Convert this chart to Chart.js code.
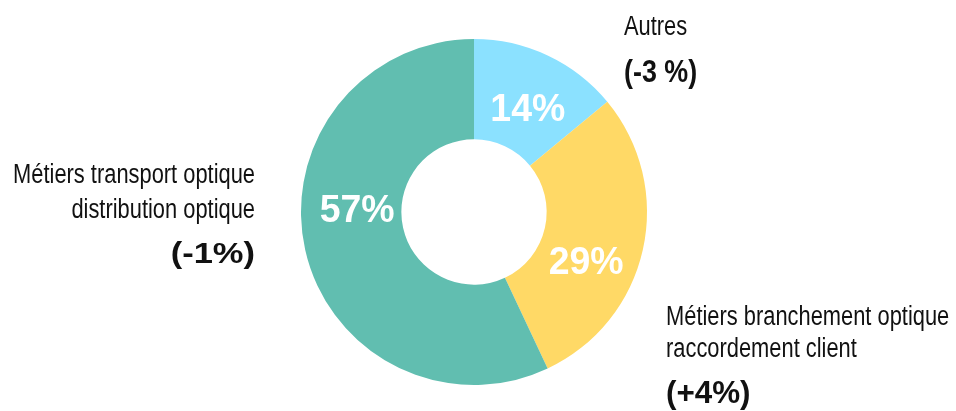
<!DOCTYPE html>
<html>
<head>
<meta charset="utf-8">
<script src="https://cdn.jsdelivr.net/npm/chart.js@4/dist/chart.umd.min.js"></script>
<style>
html,body{margin:0;padding:0;background:#fff;}
#wrap{width:956px;height:411px;position:relative;}
</style>
</head>
<body>
<div id="wrap"><canvas id="c" width="956" height="411"></canvas></div>
<script>
const categories = ["Autres", "Métiers branchement optique|raccordement client", "Métiers transport optique|distribution optique"];
const shares = [14, 29, 57];
const changes = ["(-3 %)", "(+4%)", "(-1%)"];
const colors = ["#8BE1FF", "#FFD966", "#61BEB0"];

const FAM = "'Liberation Sans', Arial, sans-serif";

function drawText(ctx, text, x, y, align, sx) {
  ctx.save();
  ctx.translate(x, y);
  ctx.scale(sx, 1);
  ctx.textAlign = align;
  ctx.textBaseline = "alphabetic";
  ctx.fillText(text, 0, 0);
  ctx.restore();
}

const labelPlugin = {
  id: 'labelPlugin',
  afterDatasetsDraw(chart, args, opts) {
    const ctx = chart.ctx;
    const meta = chart.getDatasetMeta(0);
    ctx.save();
    meta.data.forEach((arc, i) => {
      const p = arc.getProps(['x','y','startAngle','endAngle','outerRadius'], true);
      const mid = (p.startAngle + p.endAngle) / 2 + opts.shift[i] * Math.PI / 180;
      const r = p.outerRadius * opts.rFrac[i];
      const x = p.x + r * Math.cos(mid);
      const y = p.y + r * Math.sin(mid);
      ctx.font = "bold 39px " + FAM;
      ctx.fillStyle = "#ffffff";
      drawText(ctx, shares[i] + "%", x, y + 14, "center", 0.96);
    });
    const cx = meta.data[0].x, cy = meta.data[0].y;
    ctx.fillStyle = "#111111";
    opts.outside.forEach((o, i) => {
      const lines = categories[i].split("|");
      ctx.font = "27px " + FAM;
      lines.forEach((ln, k) => {
        drawText(ctx, ln, cx + o.dx, cy + o.dy[k], o.align, 0.81);
      });
      ctx.font = o.boldFont;
      drawText(ctx, changes[i], cx + o.dx, cy + o.dy[lines.length], o.align, o.boldScale);
    });
    ctx.restore();
  }
};

new Chart(document.getElementById('c'), {
  type: 'doughnut',
  data: {
    labels: categories.map(s => s.replace("|", " ")),
    datasets: [{
      data: shares,
      backgroundColor: colors,
      borderWidth: 0,
      hoverOffset: 0
    }]
  },
  options: {
    responsive: false,
    animation: false,
    cutout: '42%',
    layout: { padding: { top: 39, bottom: 26, left: 0, right: 8 } },
    events: [],
    plugins: {
      legend: { display: false },
      tooltip: { enabled: false },
      labelPlugin: {
        shift: [2, 10.6, 14.6],
        rFrac: [0.68, 0.705, 0.676],
        outside: [
          { align: 'left', dx: 150, dy: [-177, -130], boldFont: "bold 32px " + FAM, boldScale: 0.84 },
          { align: 'left', dx: 192, dy: [113, 145, 191], boldFont: "bold 32px " + FAM, boldScale: 0.98 },
          { align: 'right', dx: -219, dy: [-29, 6, 51], boldFont: "bold 30px " + FAM, boldScale: 1.15 }
        ]
      }
    }
  },
  plugins: [labelPlugin]
});
</script>
</body>
</html>
